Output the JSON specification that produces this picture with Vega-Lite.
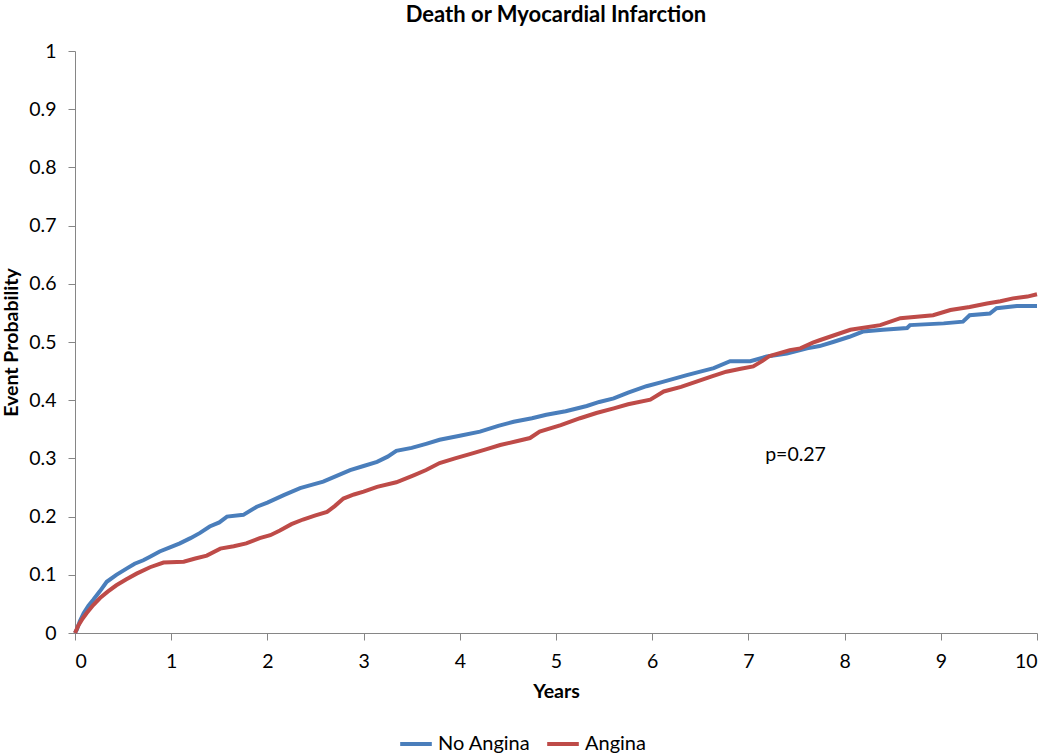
{
  "$schema": "https://vega.github.io/schema/vega-lite/v6.json",
  "width": 962,
  "height": 582,
  "autosize": {"type": "none"},
  "padding": {"left": 75, "top": 51, "right": 13, "bottom": 122},
  "background": "white",
  "title": {"text": "Death or Myocardial Infarction", "font": "Lato", "fontSize": 22, "fontWeight": "bold", "color": "#000000", "anchor": "middle", "offset": 14},
  "config": {
    "view": {"stroke": null},
    "font": "Lato",
    "axis": {"grid": false, "domainColor": "#868686", "tickColor": "#868686", "tickSize": 7, "labelFont": "Lato", "labelFontSize": 19.5, "labelColor": "#000000", "titleFont": "Lato", "titleFontSize": 19.5, "titleFontWeight": "bold", "titleColor": "#000000"}
  },
  "layer": [
    {
      "data": {"values": [
        {"group":"No Angina","years":0,"p":0},{"group":"No Angina","years":0.02,"p":0.006},{"group":"No Angina","years":0.05,"p":0.02},{"group":"No Angina","years":0.09,"p":0.034},{"group":"No Angina","years":0.14,"p":0.047},{"group":"No Angina","years":0.19,"p":0.057},{"group":"No Angina","years":0.26,"p":0.072},{"group":"No Angina","years":0.33,"p":0.088},{"group":"No Angina","years":0.43,"p":0.1},{"group":"No Angina","years":0.54,"p":0.111},{"group":"No Angina","years":0.62,"p":0.119},{"group":"No Angina","years":0.71,"p":0.125},{"group":"No Angina","years":0.78,"p":0.131},{"group":"No Angina","years":0.88,"p":0.14},{"group":"No Angina","years":1.0,"p":0.148},{"group":"No Angina","years":1.09,"p":0.154},{"group":"No Angina","years":1.2,"p":0.163},{"group":"No Angina","years":1.3,"p":0.172},{"group":"No Angina","years":1.4,"p":0.183},{"group":"No Angina","years":1.5,"p":0.19},{"group":"No Angina","years":1.58,"p":0.2},{"group":"No Angina","years":1.75,"p":0.203},{"group":"No Angina","years":1.89,"p":0.217},{"group":"No Angina","years":2.0,"p":0.224},{"group":"No Angina","years":2.17,"p":0.237},{"group":"No Angina","years":2.34,"p":0.249},{"group":"No Angina","years":2.45,"p":0.254},{"group":"No Angina","years":2.58,"p":0.26},{"group":"No Angina","years":2.72,"p":0.27},{"group":"No Angina","years":2.86,"p":0.28},{"group":"No Angina","years":3.0,"p":0.287},{"group":"No Angina","years":3.14,"p":0.294},{"group":"No Angina","years":3.25,"p":0.303},{"group":"No Angina","years":3.34,"p":0.313},{"group":"No Angina","years":3.5,"p":0.318},{"group":"No Angina","years":3.65,"p":0.325},{"group":"No Angina","years":3.79,"p":0.332},{"group":"No Angina","years":4.0,"p":0.339},{"group":"No Angina","years":4.21,"p":0.346},{"group":"No Angina","years":4.4,"p":0.356},{"group":"No Angina","years":4.56,"p":0.363},{"group":"No Angina","years":4.75,"p":0.369},{"group":"No Angina","years":4.9,"p":0.375},{"group":"No Angina","years":5.1,"p":0.381},{"group":"No Angina","years":5.32,"p":0.39},{"group":"No Angina","years":5.45,"p":0.397},{"group":"No Angina","years":5.6,"p":0.403},{"group":"No Angina","years":5.75,"p":0.413},{"group":"No Angina","years":5.94,"p":0.424},{"group":"No Angina","years":6.1,"p":0.431},{"group":"No Angina","years":6.36,"p":0.443},{"group":"No Angina","years":6.5,"p":0.449},{"group":"No Angina","years":6.64,"p":0.455},{"group":"No Angina","years":6.81,"p":0.467},{"group":"No Angina","years":7.02,"p":0.467},{"group":"No Angina","years":7.19,"p":0.475},{"group":"No Angina","years":7.4,"p":0.48},{"group":"No Angina","years":7.61,"p":0.489},{"group":"No Angina","years":7.74,"p":0.493},{"group":"No Angina","years":7.88,"p":0.5},{"group":"No Angina","years":8.05,"p":0.509},{"group":"No Angina","years":8.19,"p":0.518},{"group":"No Angina","years":8.4,"p":0.521},{"group":"No Angina","years":8.65,"p":0.524},{"group":"No Angina","years":8.68,"p":0.529},{"group":"No Angina","years":9.03,"p":0.532},{"group":"No Angina","years":9.23,"p":0.535},{"group":"No Angina","years":9.3,"p":0.546},{"group":"No Angina","years":9.51,"p":0.549},{"group":"No Angina","years":9.58,"p":0.558},{"group":"No Angina","years":9.79,"p":0.562},{"group":"No Angina","years":10.0,"p":0.562},
        {"group":"Angina","years":0,"p":0},{"group":"Angina","years":0.035,"p":0.013},{"group":"Angina","years":0.08,"p":0.025},{"group":"Angina","years":0.12,"p":0.034},{"group":"Angina","years":0.19,"p":0.048},{"group":"Angina","years":0.26,"p":0.06},{"group":"Angina","years":0.34,"p":0.071},{"group":"Angina","years":0.43,"p":0.082},{"group":"Angina","years":0.53,"p":0.092},{"group":"Angina","years":0.64,"p":0.102},{"group":"Angina","years":0.78,"p":0.113},{"group":"Angina","years":0.92,"p":0.121},{"group":"Angina","years":1.13,"p":0.1225},{"group":"Angina","years":1.25,"p":0.128},{"group":"Angina","years":1.37,"p":0.133},{"group":"Angina","years":1.51,"p":0.145},{"group":"Angina","years":1.65,"p":0.149},{"group":"Angina","years":1.78,"p":0.154},{"group":"Angina","years":1.92,"p":0.163},{"group":"Angina","years":2.03,"p":0.168},{"group":"Angina","years":2.13,"p":0.176},{"group":"Angina","years":2.25,"p":0.187},{"group":"Angina","years":2.37,"p":0.195},{"group":"Angina","years":2.5,"p":0.202},{"group":"Angina","years":2.62,"p":0.208},{"group":"Angina","years":2.7,"p":0.218},{"group":"Angina","years":2.79,"p":0.231},{"group":"Angina","years":2.9,"p":0.238},{"group":"Angina","years":3.0,"p":0.243},{"group":"Angina","years":3.14,"p":0.251},{"group":"Angina","years":3.34,"p":0.259},{"group":"Angina","years":3.52,"p":0.271},{"group":"Angina","years":3.65,"p":0.28},{"group":"Angina","years":3.79,"p":0.292},{"group":"Angina","years":3.95,"p":0.3},{"group":"Angina","years":4.14,"p":0.309},{"group":"Angina","years":4.28,"p":0.316},{"group":"Angina","years":4.42,"p":0.323},{"group":"Angina","years":4.6,"p":0.33},{"group":"Angina","years":4.73,"p":0.335},{"group":"Angina","years":4.83,"p":0.346},{"group":"Angina","years":5.05,"p":0.357},{"group":"Angina","years":5.25,"p":0.369},{"group":"Angina","years":5.42,"p":0.378},{"group":"Angina","years":5.6,"p":0.386},{"group":"Angina","years":5.75,"p":0.393},{"group":"Angina","years":5.98,"p":0.401},{"group":"Angina","years":6.12,"p":0.415},{"group":"Angina","years":6.3,"p":0.423},{"group":"Angina","years":6.46,"p":0.432},{"group":"Angina","years":6.62,"p":0.441},{"group":"Angina","years":6.77,"p":0.449},{"group":"Angina","years":6.92,"p":0.454},{"group":"Angina","years":7.05,"p":0.458},{"group":"Angina","years":7.15,"p":0.468},{"group":"Angina","years":7.22,"p":0.476},{"group":"Angina","years":7.43,"p":0.486},{"group":"Angina","years":7.54,"p":0.489},{"group":"Angina","years":7.67,"p":0.499},{"group":"Angina","years":7.74,"p":0.503},{"group":"Angina","years":7.9,"p":0.512},{"group":"Angina","years":8.06,"p":0.521},{"group":"Angina","years":8.37,"p":0.529},{"group":"Angina","years":8.58,"p":0.541},{"group":"Angina","years":8.92,"p":0.546},{"group":"Angina","years":9.1,"p":0.555},{"group":"Angina","years":9.3,"p":0.56},{"group":"Angina","years":9.48,"p":0.566},{"group":"Angina","years":9.62,"p":0.57},{"group":"Angina","years":9.75,"p":0.575},{"group":"Angina","years":9.9,"p":0.578},{"group":"Angina","years":10.0,"p":0.582}
      ]},
      "mark": {"type": "line", "strokeWidth": 4, "interpolate": "linear"},
      "encoding": {
        "x": {"field": "years", "type": "quantitative", "title": "Years", "scale": {"domain": [0, 10], "nice": false}, "axis": {"values": [0,1,2,3,4,5,6,7,8,9,10], "format": "~g", "labelPadding": 12, "titlePadding": 12}},
        "y": {"field": "p", "type": "quantitative", "title": "Event Probability", "scale": {"domain": [0, 1], "nice": false}, "axis": {"values": [0,0.1,0.2,0.3,0.4,0.5,0.6,0.7,0.8,0.9,1], "format": "~g", "labelPadding": 12, "titlePadding": 7}},
        "color": {"field": "group", "type": "nominal", "scale": {"domain": ["No Angina", "Angina"], "range": ["#4A7EBB", "#BE4B48"]},
          "legend": {"title": null, "orient": "none", "direction": "horizontal", "legendX": 323, "legendY": 675, "symbolType": "stroke", "symbolSize": 1000, "symbolStrokeWidth": 4, "labelFont": "Lato", "labelFontSize": 20, "labelColor": "#000000", "columnPadding": 8, "labelOffset": 4}},
        "order": {"field": "years", "type": "quantitative"}
      }
    },
    {
      "data": {"values": [{"label": "p=0.27"}]},
      "mark": {"type": "text", "font": "Lato", "fontSize": 19.5, "color": "#000000", "align": "center", "baseline": "middle"},
      "encoding": {"x": {"datum": 7.49}, "y": {"datum": 0.306}, "text": {"field": "label", "type": "nominal"}}
    }
  ]
}
